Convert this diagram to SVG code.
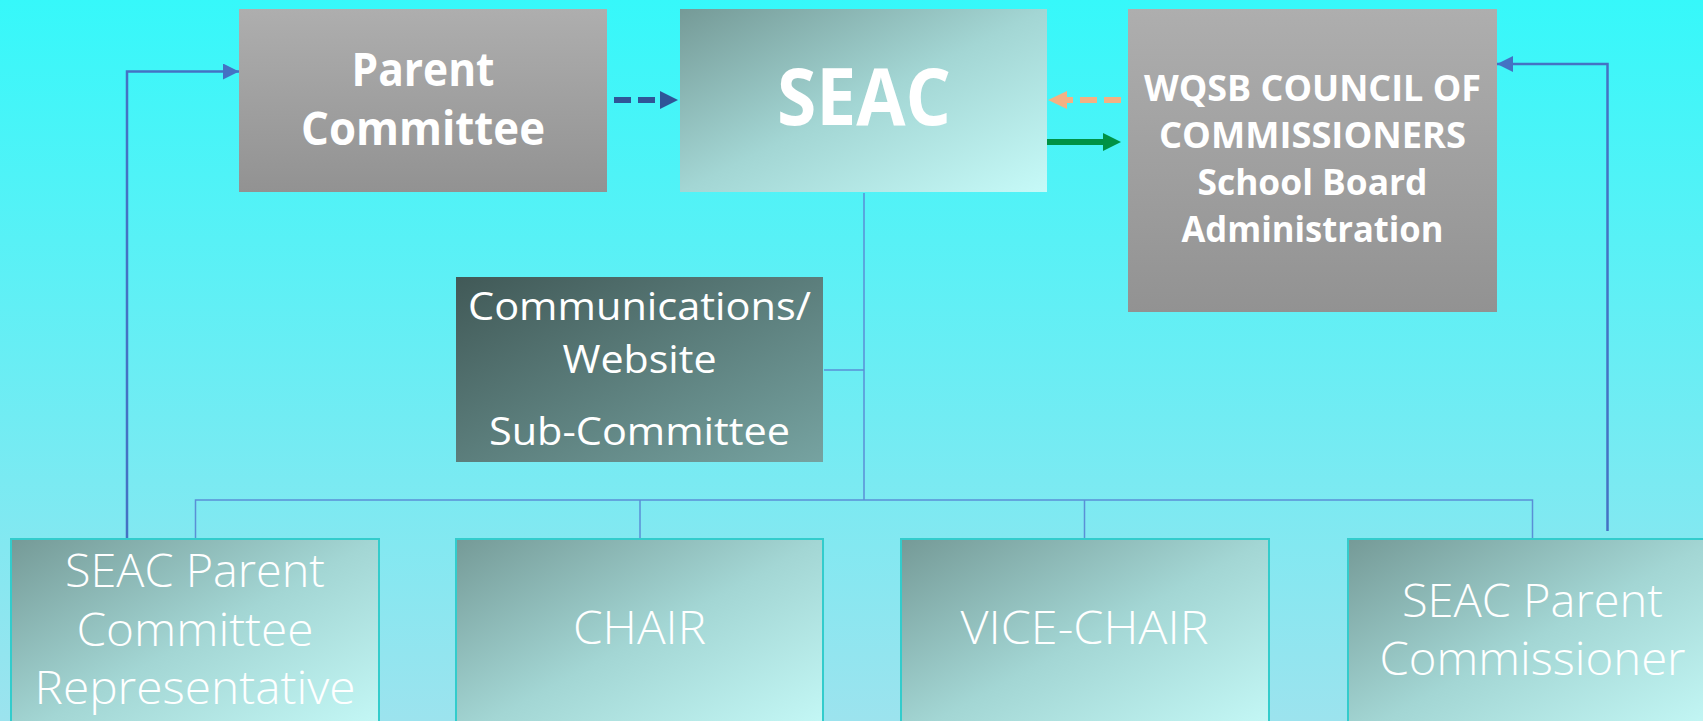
<svg xmlns="http://www.w3.org/2000/svg" width="1703" height="721" viewBox="0 0 1703 721">
<defs>
<linearGradient id="bg" x1="0" y1="0" x2="0" y2="1">
<stop offset="0" stop-color="#36F8FA"/>
<stop offset="1" stop-color="#9CE3EE"/>
</linearGradient>
<linearGradient id="grey" x1="0" y1="0" x2="0" y2="1">
<stop offset="0" stop-color="#AEAEAE"/>
<stop offset="1" stop-color="#929292"/>
</linearGradient>
<linearGradient id="teal" x1="0" y1="0" x2="1" y2="1">
<stop offset="0" stop-color="#759A97"/>
<stop offset="0.5" stop-color="#A3D6D4"/>
<stop offset="1" stop-color="#C6FAF8"/>
</linearGradient>
<linearGradient id="dark" x1="0" y1="0" x2="1" y2="1">
<stop offset="0" stop-color="#415957"/>
<stop offset="1" stop-color="#76A3A1"/>
</linearGradient>
<marker id="ab" markerUnits="userSpaceOnUse" markerWidth="18" markerHeight="16" refX="16" refY="8" orient="auto">
<path d="M0,0 L16,8 L0,16 Z" fill="#4472C4"/>
</marker>
<style>
.txt{fill:#fff;font-family:"Open Sans","Noto Sans","Liberation Sans",sans-serif;text-anchor:middle}
.b{font-weight:bold}
.lt{font-weight:300}
.tree{fill:none;stroke:#5A8FD6;stroke-width:1.5}
.elbow{fill:none;stroke:#4472C4;stroke-width:2.5}
.bx{stroke:#33CCCC;stroke-width:2}
</style>
</defs>
<rect x="0" y="0" width="1703" height="721" fill="url(#bg)"/>

<g id="connectors">
<path class="tree" d="M864,193 V500 M824,370 H864 M195.5,539 V500 H1532.5 V539 M640,500 V539 M1084.5,500 V539"/>
<path class="elbow" d="M127,539 V71.5 H239" marker-end="url(#ab)"/>
<path class="elbow" d="M1607.5,531 V64 H1497" marker-end="url(#ab)"/>
<line x1="614" y1="100" x2="660" y2="100" stroke="#2F5597" stroke-width="6" stroke-dasharray="17 7"/>
<polygon points="660,91 678,100 660,109" fill="#2F5597"/>
<line x1="1121" y1="100" x2="1062" y2="100" stroke="#F4B183" stroke-width="6" stroke-dasharray="17 7"/>
<polygon points="1067,91 1048,100 1067,109" fill="#F4B183"/>
<line x1="1047" y1="142" x2="1104" y2="142" stroke="#009245" stroke-width="6"/>
<polygon points="1103,133 1121,142 1103,151" fill="#009245"/>
</g>

<g id="parent-committee">
<rect x="239" y="9" width="368" height="183" fill="url(#grey)"/>
<text class="txt b" x="423" y="86" font-size="46" textLength="143" lengthAdjust="spacingAndGlyphs">Parent</text>
<text class="txt b" x="423" y="145" font-size="46" textLength="244" lengthAdjust="spacingAndGlyphs">Committee</text>
</g>

<g id="seac">
<rect x="680" y="9" width="367" height="183" fill="url(#teal)"/>
<text class="txt b" x="864" y="125" font-size="78" textLength="174" lengthAdjust="spacingAndGlyphs">SEAC</text>
</g>

<g id="wqsb">
<rect x="1128" y="9" width="369" height="303" fill="url(#grey)"/>
<text class="txt b" x="1312.5" y="101" font-size="35" textLength="337" lengthAdjust="spacingAndGlyphs">WQSB COUNCIL OF</text>
<text class="txt b" x="1312.5" y="148" font-size="35" textLength="307" lengthAdjust="spacingAndGlyphs">COMMISSIONERS</text>
<text class="txt b" x="1312.5" y="195" font-size="35" textLength="230" lengthAdjust="spacingAndGlyphs">School Board</text>
<text class="txt b" x="1312.5" y="242" font-size="35" textLength="262" lengthAdjust="spacingAndGlyphs">Administration</text>
</g>

<g id="communications">
<rect x="456" y="277" width="367" height="185" fill="url(#dark)"/>
<text class="txt" x="639.5" y="320" font-size="39" textLength="343" lengthAdjust="spacingAndGlyphs">Communications/</text>
<text class="txt" x="639.5" y="373" font-size="39" textLength="154" lengthAdjust="spacingAndGlyphs">Website</text>
<text class="txt" x="639.5" y="445" font-size="39" textLength="301" lengthAdjust="spacingAndGlyphs">Sub-Committee</text>
</g>

<g id="parent-rep">
<rect class="bx" x="11" y="539" width="368" height="200" fill="url(#teal)"/>
<text class="txt lt" x="195" y="587" font-size="46" textLength="260" lengthAdjust="spacingAndGlyphs">SEAC Parent</text>
<text class="txt lt" x="195" y="646" font-size="46" textLength="237" lengthAdjust="spacingAndGlyphs">Committee</text>
<text class="txt lt" x="195" y="704" font-size="46" textLength="321" lengthAdjust="spacingAndGlyphs">Representative</text>
</g>

<g id="chair">
<rect class="bx" x="456" y="539" width="367" height="200" fill="url(#teal)"/>
<text class="txt lt" x="639.5" y="644" font-size="46" textLength="133" lengthAdjust="spacingAndGlyphs">CHAIR</text>
</g>

<g id="vice-chair">
<rect class="bx" x="901" y="539" width="368" height="200" fill="url(#teal)"/>
<text class="txt lt" x="1084.5" y="644" font-size="46" textLength="248" lengthAdjust="spacingAndGlyphs">VICE-CHAIR</text>
</g>

<g id="parent-commissioner">
<rect class="bx" x="1348" y="539" width="369" height="200" fill="url(#teal)"/>
<text class="txt lt" x="1532.5" y="617" font-size="46" textLength="261" lengthAdjust="spacingAndGlyphs">SEAC Parent</text>
<text class="txt lt" x="1532.5" y="675" font-size="46" textLength="306" lengthAdjust="spacingAndGlyphs">Commissioner</text>
</g>
</svg>
